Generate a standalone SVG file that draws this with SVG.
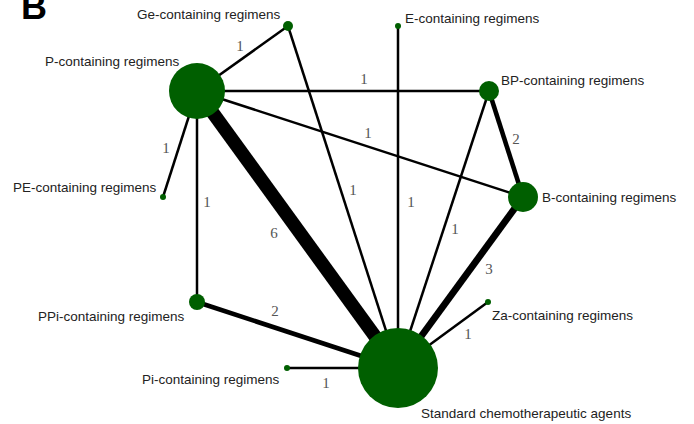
<svg xmlns="http://www.w3.org/2000/svg" width="694" height="424" viewBox="0 0 694 424">
<style>
.n{fill:#005f00}
.lbl{font-family:"Liberation Sans",Arial,sans-serif;font-size:13.5px;fill:#222}
.w{font-family:"Liberation Serif","Times New Roman",serif;font-size:15px;fill:#555;text-anchor:middle}
#edges line{stroke:#000;stroke-linecap:butt}
.e1{stroke-width:2.5}
.e2{stroke-width:4.6}
.e3{stroke-width:6.8}
.e6{stroke-width:13.5}
</style>
<rect width="694" height="424" fill="#fff"/>
<text x="21" y="19" font-family="Liberation Sans,Arial,sans-serif" font-weight="bold" font-size="36" fill="#000">B</text>
<g id="edges">
<line class="e6" x1="197" y1="91" x2="398" y2="368"/>
<line class="e1" x1="197" y1="91" x2="288" y2="26"/>
<line class="e1" x1="197" y1="91" x2="163" y2="197"/>
<line class="e1" x1="197" y1="91" x2="489" y2="91"/>
<line class="e1" x1="197" y1="91" x2="523" y2="197"/>
<line class="e1" x1="197" y1="91" x2="197" y2="302"/>
<line class="e1" x1="288" y1="26" x2="398" y2="368"/>
<line class="e1" x1="398" y1="26" x2="398" y2="368"/>
<line class="e2" x1="489" y1="91" x2="523" y2="197"/>
<line class="e1" x1="489" y1="91" x2="398" y2="368"/>
<line class="e3" x1="523" y1="197" x2="398" y2="368"/>
<line class="e2" x1="197" y1="302" x2="398" y2="368"/>
<line class="e1" x1="287" y1="368" x2="398" y2="368"/>
<line class="e1" x1="488" y1="302" x2="398" y2="368"/>
<text class="w" x="240" y="51">1</text>
<text class="w" x="166" y="153">1</text>
<text class="w" x="207" y="207">1</text>
<text class="w" x="364" y="84">1</text>
<text class="w" x="368" y="138">1</text>
<text class="w" x="353" y="195">1</text>
<text class="w" x="411" y="207">1</text>
<text class="w" x="516" y="144">2</text>
<text class="w" x="455" y="234">1</text>
<text class="w" x="489" y="274">3</text>
<text class="w" x="468" y="339">1</text>
<text class="w" x="274" y="238">6</text>
<text class="w" x="275" y="316">2</text>
<text class="w" x="326" y="388">1</text>
</g>
<g id="node-P"><circle class="n" cx="197" cy="91" r="28"/><text class="lbl" x="45" y="66">P-containing regimens</text></g>
<g id="node-Ge"><circle class="n" cx="288" cy="26" r="5"/><text class="lbl" x="137" y="19">Ge-containing regimens</text></g>
<g id="node-E"><circle class="n" cx="398" cy="26" r="3"/><text class="lbl" x="405" y="23">E-containing regimens</text></g>
<g id="node-BP"><circle class="n" cx="489" cy="91" r="10"/><text class="lbl" x="501" y="85">BP-containing regimens</text></g>
<g id="node-PE"><circle class="n" cx="163" cy="197" r="3"/><text class="lbl" x="13" y="192">PE-containing regimens</text></g>
<g id="node-B"><circle class="n" cx="523" cy="197" r="15"/><text class="lbl" x="542" y="202">B-containing regimens</text></g>
<g id="node-PPi"><circle class="n" cx="197" cy="302" r="8"/><text class="lbl" x="38" y="321">PPi-containing regimens</text></g>
<g id="node-Za"><circle class="n" cx="488" cy="302" r="3"/><text class="lbl" x="492" y="320">Za-containing regimens</text></g>
<g id="node-Pi"><circle class="n" cx="287" cy="368" r="3"/><text class="lbl" x="142" y="384">Pi-containing regimens</text></g>
<g id="node-Std"><circle class="n" cx="398" cy="368" r="40"/><text class="lbl" x="421" y="418">Standard chemotherapeutic agents</text></g>
</svg>
